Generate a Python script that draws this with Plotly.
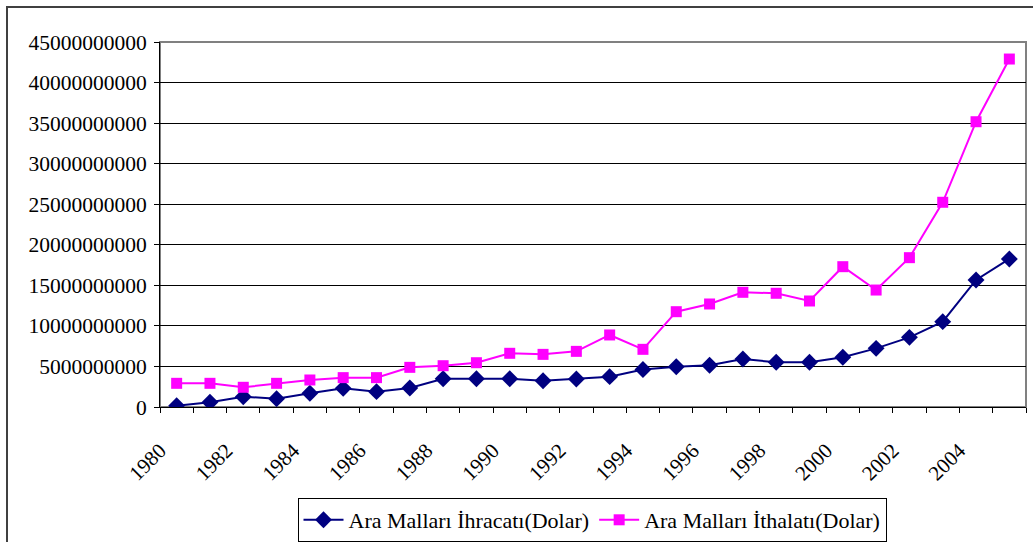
import plotly.graph_objects as go

years = list(range(1980, 2006))
ihracat = [0.16e9, 0.58e9, 1.27e9, 1.02e9, 1.69e9, 2.30e9, 1.89e9, 2.34e9, 3.49e9, 3.49e9,
           3.49e9, 3.24e9, 3.45e9, 3.74e9, 4.62e9, 4.97e9, 5.14e9, 5.92e9, 5.51e9, 5.51e9,
           6.13e9, 7.23e9, 8.59e9, 10.52e9, 15.66e9, 18.25e9]
ithalat = [2.92e9, 2.92e9, 2.43e9, 2.92e9, 3.33e9, 3.62e9, 3.62e9, 4.89e9, 5.09e9, 5.46e9,
           6.62e9, 6.49e9, 6.86e9, 8.88e9, 7.11e9, 11.75e9, 12.70e9, 14.14e9, 14.02e9, 13.07e9,
           17.30e9, 14.42e9, 18.41e9, 25.24e9, 35.17e9, 42.90e9]
series_names = ["Ara Malları İhracatı(Dolar)", "Ara Malları İthalatı(Dolar)"]
y_ticks = list(range(0, 45000000001, 5000000000))

x_pos = [i + 0.5 for i in range(len(years))]
tick_positions = list(range(len(years) + 1))
tick_text = [str(years[i]) if (i < len(years) and i % 2 == 0) else "" for i in tick_positions]

FONT = "Liberation Serif"

fig = go.Figure()
fig.add_trace(go.Scatter(
    x=x_pos, y=ihracat, name=series_names[0], mode="lines+markers",
    line=dict(color="#000080", width=2),
    marker=dict(symbol="diamond", size=13, color="#000080"),
))
fig.add_trace(go.Scatter(
    x=x_pos, y=ithalat, name=series_names[1], mode="lines+markers",
    line=dict(color="#FF00FF", width=2),
    marker=dict(symbol="square", size=11, color="#FF00FF"),
))

L, R, T, B = 160, 1026, 42, 407
W, H = 1033, 542
pw, ph = R - L, B - T

fig.update_layout(
    width=W, height=H,
    margin=dict(l=L, r=W - R, t=T, b=H - B, pad=0, autoexpand=False),
    paper_bgcolor="white", plot_bgcolor="white",
    font=dict(family=FONT, size=21, color="black"),
    showlegend=True,
    legend=dict(
        orientation="h", x=(592 - L) / pw, xanchor="center", y=(B - 498) / ph, yanchor="top",
        bordercolor="black", borderwidth=1, font=dict(family=FONT, size=22, color="black"),
        itemwidth=40, tracegroupgap=0,
    ),
    xaxis=dict(
        range=[0, len(years)], tickmode="array", tickvals=tick_positions, ticktext=tick_text,
        tickangle=-45, ticks="outside", ticklen=5, tickcolor="black", tickwidth=1,
        showline=True, linecolor="black", linewidth=1, showgrid=False, zeroline=False,
        tickfont=dict(family=FONT, size=21, color="black"), ticklabelstandoff=17,
        automargin=False, fixedrange=True,
    ),
    yaxis=dict(
        range=[0, 45e9], tickmode="array", tickvals=y_ticks,
        ticktext=[str(v) for v in y_ticks],
        ticks="outside", ticklen=5, tickcolor="black", tickwidth=1,
        showline=True, linecolor="black", linewidth=1,
        showgrid=True, gridcolor="black", gridwidth=1, zeroline=False,
        tickfont=dict(family=FONT, size=21.5, color="black"), ticklabelstandoff=3,
        automargin=False, fixedrange=True,
    ),
    shapes=[
        dict(type="rect", xref="paper", yref="paper", x0=0, x1=1, y0=0, y1=1,
             line=dict(color="#808080", width=2), layer="between"),
        dict(type="rect", xref="paper", yref="paper",
             x0=(7 - L) / pw, x1=(1100 - L) / pw, y0=(B - 620) / ph, y1=1 + (T - 7) / ph,
             line=dict(color="#404040", width=2), layer="above"),
    ],
)

fig.write_html("out.html", config={"displayModeBar": False},
               post_script="document.body.style.margin='0px';")
